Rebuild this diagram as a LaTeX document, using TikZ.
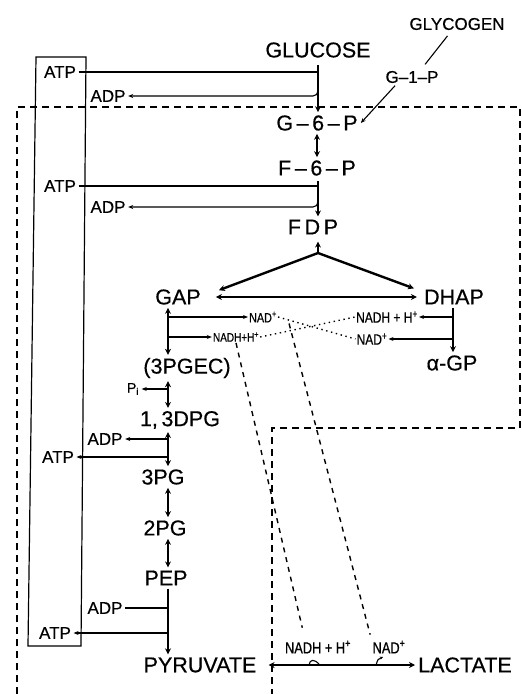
\documentclass[tikz,border=0pt]{standalone}
\usepackage{fontspec}
\setmainfont{Liberation Sans}[FakeBold=0.5]
\newfontfamily\narrowsans{Liberation Sans}[FakeStretch=0.8, FakeBold=0.6]
\usetikzlibrary{arrows.meta}
\tikzset{
  metab/.style={inner sep=3pt, font=\fontsize{21.5}{24}\selectfont},
  nucl/.style={inner sep=2.5pt, font=\fontsize{17}{20}\selectfont},
  cofac/.style={inner sep=1pt, font=\narrowsans\fontsize{#1}{#1}\selectfont},
  cofac/.default=13.5,
  revarrow/.style={line width=2.4pt,
    {Stealth[length=6pt,width=6pt]}-{Stealth[length=6pt,width=6pt]}},
  fwdarrow/.style={line width=2.4pt, -{Stealth[length=6pt,width=6pt]}},
  sidearrow/.style={line width=1.1pt, -{Stealth[length=5pt,width=4pt]}},
  sideline/.style={line width=1.1pt},
  membrane/.style={line width=2.4pt, dash pattern=on 7pt off 5pt},
  shuttle/.style={line width=1.4pt, dash pattern=on 5pt off 5pt},
  crossdots/.style={line width=1.4pt, dash pattern=on 1.4pt off 3.6pt},
  atpbox/.style={line width=1.2pt},
}

\begin{document}
\begin{tikzpicture}[x=1pt, y=-1pt]
  \useasboundingbox[fill=white] (0,0) rectangle (522,694);

  \draw[membrane] (17,694) -- (17,107) -- (520,107) -- (520,428)
    -- (272,428) -- (272,694);
  \draw[atpbox] (36,57) -- (86,57) -- (81,646) -- (28,646) -- cycle;

  \node[nucl] (glycogen) at (457,24) {GLYCOGEN};
  \node[metab] (glucose) at (318,50) {GLUCOSE};
  \node[nucl] (g1p) at (412,77) {G--1--P};
  \node[metab] (g6p) at (317,123) {G\,--\,6\,--\,P};
  \node[metab] (f6p) at (317,168) {F\,--\,6\,--\,P};
  \node[metab] (fdp) at (313,227) {F\,D\,P};
  \node[metab] (gap) at (178,297) {GAP};
  \node[metab] (dhap) at (454,297) {DHAP};
  \node[metab] (agp) at (452,363) {α-GP};
  \node[metab] (pgec) at (187,368) {(3PGEC)};
  \node[metab] (dpg) at (180,420) {1,\,3DPG};
  \node[metab] (pg3) at (163,477) {3PG};
  \node[metab] (pg2) at (165,528) {2PG};
  \node[metab] (pep) at (166,578) {PEP};
  \node[metab] (pyr) at (200,665) {PYRUVATE};
  \node[metab] (lac) at (465,665) {LACTATE};

  \node[nucl] (atpa) at (60,72) {ATP};
  \node[nucl] (adpa) at (108,96) {ADP};
  \node[nucl] (atpb) at (60,186) {ATP};
  \node[nucl] (adpb) at (108,207) {ADP};
  \node[nucl, font=\fontsize{14}{16}\selectfont] (pi) at (133,389) {P\textsubscript{i}};
  \node[nucl] (adpc) at (105,439) {ADP};
  \node[nucl] (atpc) at (58,457) {ATP};
  \node[nucl] (adpd) at (105,608) {ADP};
  \node[nucl] (atpd) at (55,633) {ATP};

  \node[cofac] (nadL) at (263,317) {NAD\textsuperscript{+}};
  \node[cofac=12.5] (nadhL) at (236,337) {NADH+H\textsuperscript{+}};
  \node[cofac=15] (nadhR) at (387,317) {NADH + H\textsuperscript{+}};
  \node[cofac=15] (nadR) at (372,339) {NAD\textsuperscript{+}};
  \node[cofac=16] (nadhLac) at (318,647) {NADH + H\textsuperscript{+}};
  \node[cofac=16] (nadLac) at (389,647) {NAD\textsuperscript{+}};

  \coordinate (topA) at (318,65);
  \coordinate (topB) at (318,181);
  \coordinate (split) at (318,253);
  \coordinate (colB) at (168,0);
  \coordinate (colC) at (453,0);

  \draw[sideline, shorten <=4pt, shorten >=5pt]
    ([xshift=-7pt]glycogen.south) -- ([xshift=10pt]g1p.north);
  \draw[sidearrow] ([xshift=-17pt]g1p.south) -- (g6p.east);

  \draw[sideline] (atpa.east) -- (atpa.east -| topA);
  \draw[fwdarrow] (topA) -- (topA |- g6p.north);
  \draw[sidearrow, rounded corners=5pt] ([yshift=-20pt]topA) |- (adpa.east);
  \draw[revarrow] (g6p.south) -- (f6p.north);
  \draw[sideline] (atpb.east) -- (atpb.east -| topB);
  \draw[fwdarrow] (topB) -- (topB |- fdp.north);
  \draw[sidearrow, rounded corners=5pt] ([yshift=-14pt]topB) |- (adpb.east);

  \draw[fwdarrow, shorten >=4pt] (split) -- (split |- fdp.south);
  \draw[fwdarrow] (split) -- ([xshift=15pt,yshift=-4pt]gap.north east);
  \draw[fwdarrow] (split) -- ([xshift=-7pt,yshift=-2pt]dhap.north west);
  \draw[revarrow, shorten <=12pt, shorten >=4pt] (gap.east) -- (dhap.west);

  \draw[revarrow] (colB |- gap.south) -- (colB |- pgec.north);
  \draw[sidearrow] (colB |- nadL.west) -- (nadL.west);
  \draw[sidearrow] (colB |- nadhL.west) -- (nadhL.west);
  \draw[fwdarrow] (colC |- dhap.south) -- (colC |- agp.north);
  \draw[sidearrow] (colC |- nadhR.east) -- (nadhR.east);
  \draw[sidearrow] (colC |- nadR.east) -- (nadR.east);

  \draw[crossdots] (nadL.east) -- (nadR.west);
  \draw[crossdots] (nadhL.east) -- (nadhR.west);
  \draw[shuttle, shorten >=12pt] (nadhL.south) -- ([xshift=-13pt]nadhLac.north);
  \draw[shuttle, shorten >=5pt] ([xshift=11pt]nadL.south east) -- (nadLac.north west);

  \draw[revarrow] (colB |- pgec.south) -- (colB |- dpg.north);
  \draw[sidearrow] (colB |- pi.east) -- (pi.east);
  \draw[revarrow] (colB |- dpg.south) -- (colB |- pg3.north);
  \draw[sidearrow] (colB |- adpc.east) -- (adpc.east);
  \draw[sidearrow] (colB |- atpc.east) -- (atpc.east);
  \draw[revarrow] (colB |- pg3.south) -- (colB |- pg2.north);
  \draw[revarrow] (colB |- pg2.south) -- (colB |- pep.north);
  \draw[fwdarrow] (colB |- pep.south) -- (colB |- pyr.north);
  \draw[sideline] (adpd.east) -- (colB |- adpd.east);
  \draw[sidearrow] (colB |- atpd.east) -- (atpd.east);

  \draw[revarrow, line width=1.8pt, shorten <=9pt] (pyr.east) -- (lac.west);
  \draw[sideline] (309,665) .. controls (310,659) and (314,659) .. (319,664);
  \draw[sideline, -{Stealth[length=3pt,width=3pt]}] (376,665) .. controls (378,659) .. (383,657);
\end{tikzpicture}
\end{document}
